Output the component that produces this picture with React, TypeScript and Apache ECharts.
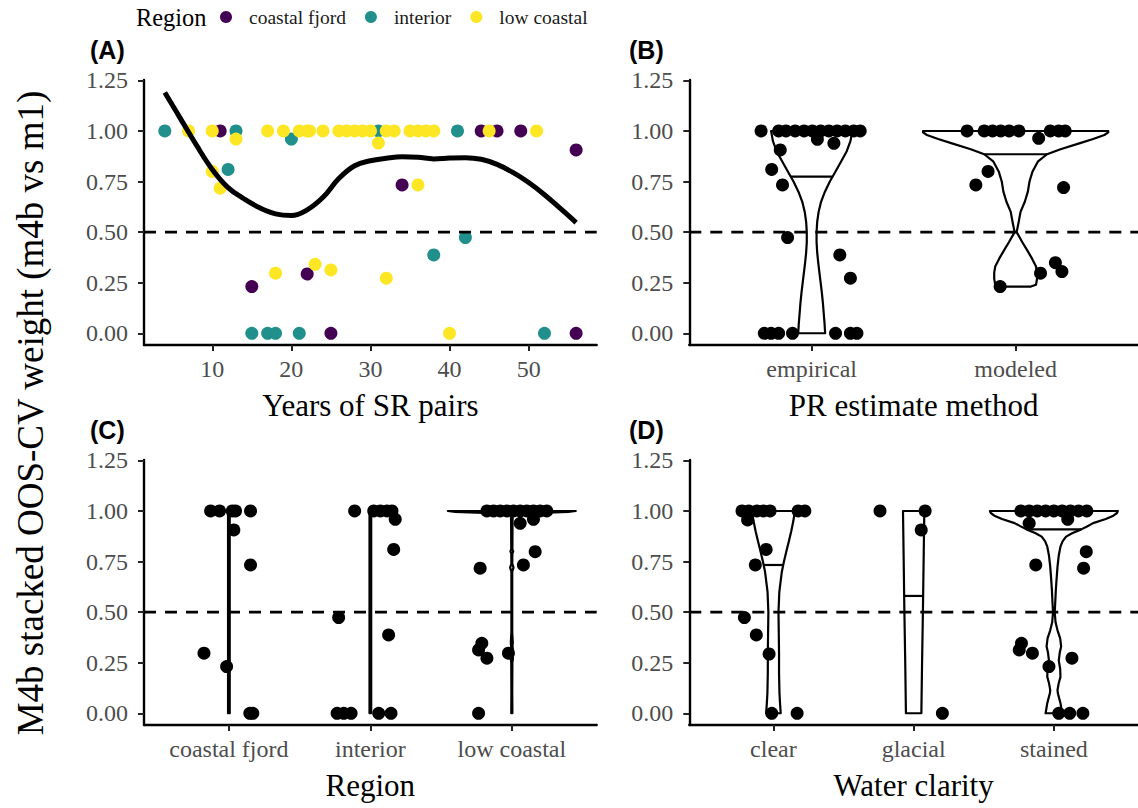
import React, { useEffect, useRef } from "react";
import * as echarts from "echarts";

// ---------- data ----------
const REGIONS = ["coastal fjord", "interior", "low coastal"];
const REGION_COLORS = ["#440154", "#21908C", "#FDE725"];

// Panel A: [years of SR pairs, weight]
const A_FJORD = [[11, 1], [44, 1], [46, 1], [49, 1], [56, 0.906], [34, 0.733], [22, 0.293], [15, 0.231], [25, 0], [56, 0]];
const A_INTERIOR = [[4, 1], [13, 1], [31, 1], [41, 1], [20, 0.96], [12, 0.81], [42, 0.473], [38, 0.387], [15, 0], [17, 0], [18, 0], [21, 0], [52, 0]];
const A_LOW = [[7, 1], [10, 1], [17, 1], [19, 1], [21, 1], [22, 1], [22.3, 1], [24, 1], [26, 1], [27, 1], [28, 1], [29, 1], [30, 1], [32, 1], [33, 1], [35, 1], [36, 1], [37, 1], [38, 1], [45, 1], [51, 1], [13, 0.96], [31, 0.94], [10, 0.8], [11, 0.717], [36, 0.733], [23, 0.341], [25, 0.313], [18, 0.297], [32, 0.272], [40, 0]];
const SMOOTH_X = [4, 6, 8, 10, 12, 14, 16, 18, 20, 22, 24, 26, 28, 30, 32, 34, 36, 38, 40, 42, 44, 46, 48, 50, 52, 54, 56];
const SMOOTH_Y = [1.19, 1.06, 0.93, 0.81, 0.72, 0.665, 0.62, 0.59, 0.582, 0.61, 0.672, 0.765, 0.828, 0.853, 0.865, 0.872, 0.87, 0.862, 0.866, 0.868, 0.86, 0.835, 0.795, 0.745, 0.685, 0.617, 0.547];
const A_X_TICKS = [10, 20, 30, 40, 50];

// Panel B: PR estimate method (x = category position + jitter)
const B_CATS = ["empirical", "modeled"];
const B_EMPIRICAL_PTS = [[0.752, 1], [0.838, 1], [0.874, 1], [0.919, 1], [0.963, 1], [1.003, 1], [1.044, 1], [1.084, 1], [1.125, 1], [1.165, 1], [1.206, 1], [1.238, 1], [1.028, 0.959], [1.109, 0.939], [0.846, 0.906], [0.804, 0.81], [0.857, 0.733], [0.882, 0.473], [1.138, 0.387], [1.19, 0.272], [0.768, 0], [0.801, 0], [0.838, 0], [0.906, 0], [1.117, 0], [1.19, 0], [1.222, 0]];
const B_MODELED_PTS = [[1.762, 1], [1.846, 1], [1.887, 1], [1.927, 1], [1.968, 1], [2.016, 1], [2.17, 1], [2.211, 1], [2.243, 1], [2.113, 0.964], [1.865, 0.8], [1.805, 0.733], [2.235, 0.72], [2.195, 0.349], [2.227, 0.305], [2.122, 0.297], [1.924, 0.231]];
// violin profiles: [weight, half width]
const B_VIOLIN_EMPIRICAL = [[0, 0.066], [0.05, 0.063], [0.1, 0.059], [0.15, 0.055], [0.2, 0.05], [0.25, 0.044], [0.3, 0.038], [0.35, 0.032], [0.4, 0.027], [0.45, 0.024], [0.5, 0.024], [0.55, 0.027], [0.6, 0.034], [0.65, 0.046], [0.7, 0.065], [0.75, 0.089], [0.8, 0.117], [0.85, 0.145], [0.9, 0.172], [0.95, 0.19], [1, 0.199]];
const B_VIOLIN_MODELED = [[0.231, 0.075], [0.24, 0.1], [0.27, 0.105], [0.3, 0.105], [0.33, 0.1], [0.37, 0.08], [0.41, 0.057], [0.45, 0.033], [0.5, 0.005], [0.55, 0.015], [0.6, 0.024], [0.65, 0.045], [0.7, 0.06], [0.75, 0.068], [0.8, 0.083], [0.85, 0.11], [0.885, 0.154], [0.91, 0.22], [0.94, 0.316], [0.96, 0.38], [0.98, 0.435], [0.993, 0.454], [1, 0.454]];
const B_MEDIANS = [0.774, 0.885];

// Panel C: Region
const C_CATS = ["coastal fjord", "interior", "low coastal"];
const C_FJORD_PTS = [[0.871, 1], [0.934, 1], [1.024, 1], [1.047, 1], [1.153, 1], [1.035, 0.906], [1.153, 0.733], [0.824, 0.297], [0.984, 0.231], [1.148, 0], [1.169, 0]];
const C_INTERIOR_PTS = [[1.889, 1], [2.024, 1], [2.071, 1], [2.118, 1], [2.153, 1], [2.176, 0.959], [2.165, 0.81], [1.776, 0.473], [2.129, 0.387], [1.765, 0], [1.812, 0], [1.864, 0], [2.059, 0], [2.146, 0]];
const C_LOW_PTS = [[2.824, 1], [2.871, 1], [2.918, 1], [2.965, 1], [3.012, 1], [3.059, 1], [3.106, 1], [3.153, 1], [3.2, 1], [3.247, 1], [3.059, 0.939], [3.153, 0.959], [3.165, 0.799], [2.776, 0.717], [3.082, 0.733], [2.788, 0.346], [2.765, 0.313], [2.824, 0.272], [2.976, 0.297], [2.765, 0]];
const C_VIOLIN_FJORD = [[0, 0.006], [0.5, 0.006], [1, 0.006]];
const C_VIOLIN_INTERIOR = [[0, 0.006], [0.5, 0.006], [1, 0.006]];
const C_VIOLIN_LOW = [[0, 0.004], [0.1, 0.003], [0.25, 0.004], [0.27, 0.008], [0.29, 0.006], [0.31, 0.009], [0.33, 0.005], [0.35, 0.007], [0.4, 0.003], [0.7, 0.003], [0.72, 0.012], [0.74, 0.003], [0.79, 0.004], [0.8, 0.01], [0.81, 0.004], [0.95, 0.005], [0.984, 0.007], [0.99, 0.2], [0.995, 0.4], [1, 0.452]];

// Panel D: Water clarity
const D_CATS = ["clear", "glacial", "stained"];
const D_CLEAR_PTS = [[0.776, 1], [0.824, 1], [0.882, 1], [0.929, 1], [0.976, 1], [1.176, 1], [1.224, 1], [0.816, 0.956], [0.948, 0.81], [0.871, 0.733], [0.793, 0.473], [0.878, 0.387], [0.969, 0.293], [0.988, 0], [1.169, 0]];
const D_GLACIAL_PTS = [[1.76, 1], [2.082, 1], [2.054, 0.906], [2.205, 0]];
const D_STAINED_PTS = [[2.765, 1], [2.824, 1], [2.882, 1], [2.941, 1], [3.0, 1], [3.059, 1], [3.118, 1], [3.176, 1], [3.235, 1], [2.824, 0.939], [3.099, 0.959], [3.231, 0.799], [2.871, 0.733], [3.212, 0.717], [2.769, 0.346], [2.753, 0.313], [2.847, 0.297], [3.129, 0.272], [2.965, 0.231], [3.035, 0], [3.113, 0], [3.207, 0]];
const D_VIOLIN_CLEAR = [[0, 0.052], [0.05, 0.047], [0.1, 0.043], [0.2, 0.04], [0.3, 0.04], [0.4, 0.038], [0.5, 0.036], [0.6, 0.042], [0.7, 0.06], [0.75, 0.075], [0.8, 0.092], [0.85, 0.11], [0.9, 0.127], [0.95, 0.142], [1, 0.153]];
const D_VIOLIN_GLACIAL = [[0, 0.055], [0.25, 0.06], [0.5, 0.066], [0.75, 0.071], [1, 0.076]];
const D_VIOLIN_STAINED = [[0, 0.059], [0.05, 0.047], [0.1, 0.028], [0.115, 0.026], [0.15, 0.035], [0.18, 0.047], [0.22, 0.045], [0.26, 0.035], [0.3, 0.042], [0.33, 0.052], [0.37, 0.045], [0.41, 0.026], [0.45, 0.012], [0.5, 0.006], [0.55, 0.01], [0.61, 0.014], [0.67, 0.02], [0.725, 0.026], [0.78, 0.035], [0.824, 0.047], [0.85, 0.062], [0.873, 0.087], [0.89, 0.13], [0.909, 0.195], [0.925, 0.24], [0.94, 0.28], [0.96, 0.37], [0.975, 0.42], [0.99, 0.45], [1, 0.456]];
const D_MEDIANS = [0.733, 0.58, 0.909];

const Y_TICKS = [0, 0.25, 0.5, 0.75, 1, 1.25];
const THRESHOLD = 0.5;

// ---------- styling ----------
const SERIF = '"Liberation Serif", "DejaVu Serif", serif';
const SANS = '"Liberation Sans", Arial, sans-serif';
const Y_MIN = -0.058;
const Y_MAX = 1.252;
const A_X_MIN = 1.37;
const A_X_MAX = 58.6;

function interp(prof: number[][], y: number) {
  for (let i = 1; i < prof.length; i++) {
    if (y <= prof[i][0]) {
      const [y0, w0] = prof[i - 1];
      const [y1, w1] = prof[i];
      const t = (y - y0) / (y1 - y0 || 1);
      return w0 + t * (w1 - w0);
    }
  }
  return prof[prof.length - 1][1];
}

function yAxis(gridIndex: number) {
  return {
    type: "value",
    gridIndex,
    min: Y_MIN,
    max: Y_MAX,
    splitLine: { show: false },
    axisLine: { show: true, lineStyle: { color: "#000", width: 2.4 } },
    axisTick: { show: true, customValues: Y_TICKS, length: 6, lineStyle: { color: "#222", width: 2 } },
    axisLabel: {
      customValues: Y_TICKS,
      formatter: (v: number) => v.toFixed(2),
      color: "#4d4d4d",
      fontFamily: SERIF,
      fontSize: 24,
      margin: 16,
    },
  };
}

function xAxis(gridIndex: number, min: number, max: number, ticks: number[], labels: string[] | null, name: string) {
  return {
    type: "value",
    gridIndex,
    min,
    max,
    name,
    nameLocation: "middle",
    nameGap: 45,
    nameTextStyle: { color: "#000", fontFamily: SERIF, fontSize: 31 },
    splitLine: { show: false },
    axisLine: { show: true, onZero: false, lineStyle: { color: "#000", width: 2.4 } },
    axisTick: { show: true, customValues: ticks, length: 6, lineStyle: { color: "#222", width: 2 } },
    axisLabel: {
      customValues: ticks,
      formatter: (v: number) => (labels ? labels[Math.round(v) - 1] : String(v)),
      color: "#4d4d4d",
      fontFamily: SERIF,
      fontSize: 24,
      margin: 12,
    },
  };
}

function violinSeries(idx: number, profiles: number[][][], medians: number[] | null) {
  return {
    type: "custom",
    xAxisIndex: idx,
    yAxisIndex: idx,
    silent: true,
    z: 2,
    data: profiles.map((_, i) => [i + 1, 0]),
    renderItem: (params: any, api: any) => {
      const i = params.dataIndex;
      const prof = profiles[i];
      const c = i + 1;
      const right = prof.map(([y, w]) => api.coord([c + w, y]));
      const left = prof.slice().reverse().map(([y, w]) => api.coord([c - w, y]));
      const children: any[] = [
        {
          type: "polygon",
          shape: { points: right.concat(left) },
          style: { fill: "#fff", stroke: "#000", lineWidth: 2.2, lineJoin: "round" },
        },
      ];
      if (medians) {
        const m = medians[i];
        const w = interp(prof, m);
        const p1 = api.coord([c - w, m]);
        const p2 = api.coord([c + w, m]);
        children.push({
          type: "line",
          shape: { x1: p1[0], y1: p1[1], x2: p2[0], y2: p2[1] },
          style: { stroke: "#000", lineWidth: 2.2 },
        });
      }
      return { type: "group", children };
    },
  };
}

function pointSeries(idx: number, data: number[][], color = "#000", name?: string) {
  return {
    type: "scatter",
    name,
    xAxisIndex: idx,
    yAxisIndex: idx,
    symbol: "circle",
    symbolSize: 13,
    itemStyle: { color, opacity: 1 },
    z: 3,
    data,
  };
}

function dashSeries(idx: number, xmin: number, xmax: number) {
  return {
    type: "line",
    xAxisIndex: idx,
    yAxisIndex: idx,
    symbol: "none",
    silent: true,
    z: 5,
    lineStyle: { color: "#000", width: 2.6, type: [12, 9] },
    data: [[xmin, THRESHOLD], [xmax, THRESHOLD]],
  };
}

export default function App() {
  const ref = useRef<HTMLDivElement>(null);
  useEffect(() => {
    if (!ref.current) return;
    const chart = echarts.init(ref.current, null, { renderer: "svg" });
    const option: any = {
      animation: false,
      backgroundColor: "#fff",
      grid: [
        { left: 144, top: 80, width: 452.7, height: 265 },
        { left: 689.3, top: 80, width: 452.4, height: 265 },
        { left: 144, top: 460, width: 452.7, height: 265 },
        { left: 689.3, top: 460, width: 452.4, height: 265 },
      ],
      xAxis: [
        xAxis(0, A_X_MIN, A_X_MAX, A_X_TICKS, null, "Years of SR pairs"),
        xAxis(1, 0.4, 2.6, [1, 2], B_CATS, "PR estimate method"),
        xAxis(2, 0.4, 3.6, [1, 2, 3], C_CATS, "Region"),
        xAxis(3, 0.4, 3.6, [1, 2, 3], D_CATS, "Water clarity"),
      ],
      yAxis: [yAxis(0), yAxis(1), yAxis(2), yAxis(3)],
      legend: {
        left: 220,
        top: 7,
        padding: 0,
        itemGap: 19,
        itemWidth: 12,
        itemHeight: 12,
        icon: "circle",
        data: REGIONS,
        textStyle: { fontFamily: SERIF, fontSize: 19.5, color: "#1a1a1a", padding: [0, 0, 0, 12] },
      },
      graphic: [
        { type: "text", left: 136, top: 5, style: { text: "Region", font: `24.4px ${SERIF}`, fill: "#000" } },
        { type: "text", left: 90, top: 37, style: { text: "(A)", font: `bold 25px ${SANS}`, fill: "#000" } },
        { type: "text", left: 629, top: 37, style: { text: "(B)", font: `bold 25px ${SANS}`, fill: "#000" } },
        { type: "text", left: 90, top: 417, style: { text: "(C)", font: `bold 25px ${SANS}`, fill: "#000" } },
        { type: "text", left: 629, top: 417, style: { text: "(D)", font: `bold 25px ${SANS}`, fill: "#000" } },
        {
          type: "text",
          x: 30,
          y: 413,
          rotation: Math.PI / 2,
          style: {
            text: "M4b stacked OOS-CV weight (m4b vs m1)",
            font: `37px ${SERIF}`,
            fill: "#000",
            align: "center",
            verticalAlign: "middle",
          },
        },
      ],
      series: [
        pointSeries(0, A_FJORD, REGION_COLORS[0], REGIONS[0]),
        pointSeries(0, A_INTERIOR, REGION_COLORS[1], REGIONS[1]),
        pointSeries(0, A_LOW, REGION_COLORS[2], REGIONS[2]),
        {
          type: "line",
          xAxisIndex: 0,
          yAxisIndex: 0,
          symbol: "none",
          smooth: 0.4,
          silent: true,
          z: 4,
          lineStyle: { color: "#000", width: 5 },
          data: SMOOTH_X.map((x, i) => [x, SMOOTH_Y[i]]),
        },
        dashSeries(0, A_X_MIN, A_X_MAX),

        violinSeries(1, [B_VIOLIN_EMPIRICAL, B_VIOLIN_MODELED], B_MEDIANS),
        pointSeries(1, B_EMPIRICAL_PTS),
        pointSeries(1, B_MODELED_PTS),
        dashSeries(1, 0.4, 2.6),

        violinSeries(2, [C_VIOLIN_FJORD, C_VIOLIN_INTERIOR, C_VIOLIN_LOW], null),
        pointSeries(2, C_FJORD_PTS),
        pointSeries(2, C_INTERIOR_PTS),
        pointSeries(2, C_LOW_PTS),
        dashSeries(2, 0.4, 3.6),

        violinSeries(3, [D_VIOLIN_CLEAR, D_VIOLIN_GLACIAL, D_VIOLIN_STAINED], D_MEDIANS),
        pointSeries(3, D_CLEAR_PTS),
        pointSeries(3, D_GLACIAL_PTS),
        pointSeries(3, D_STAINED_PTS),
        dashSeries(3, 0.4, 3.6),
      ],
    };
    chart.setOption(option);
    return () => chart.dispose();
  }, []);
  return (
    <div
      ref={ref}
      style={{ position: "absolute", left: 0, top: 0, width: 1138, height: 808, background: "#fff" }}
    />
  );
}
